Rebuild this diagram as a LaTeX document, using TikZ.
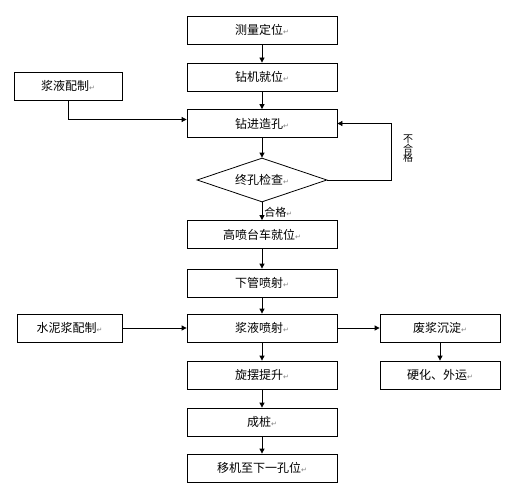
\documentclass[tikz,border=0pt]{standalone}
\usepackage{fontspec}
\setmainfont{Noto Sans CJK SC}
\newfontfamily\symfont{DejaVu Sans}
\usetikzlibrary{shapes.geometric,arrows.meta}
\newcommand{\pmark}{{\symfont\color{gray}\fontsize{7}{7}\selectfont ↵}}

\begin{document}
\begin{tikzpicture}[x=1pt,y=-1pt,
  every node/.style={font=\fontsize{12}{14}\selectfont},
  box/.style={draw,minimum width=150pt,minimum height=28pt,inner sep=0pt,line width=0.8pt},
  side/.style={box,minimum width=108pt},
  check/.style={diamond,draw,aspect=3,minimum width=130pt,minimum height=44pt,inner sep=0pt,line width=0.8pt},
  line/.style={draw,line width=0.8pt,-{Triangle[length=5pt,width=5pt]}}
  ]
\useasboundingbox (0,0) rectangle (513,484);
% main column
\node[box] (A) at (262,30) {测量定位\pmark};
\node[box] (B) at (262,77) {钻机就位\pmark};
\node[box] (C) at (262,123.5) {钻进造孔\pmark};
\node[check] (D) at (262,180) {终孔检查\pmark};
\node[box] (E) at (262,234.5) {高喷台车就位\pmark};
\node[box] (F) at (262,283) {下管喷射\pmark};
\node[box] (G) at (262,328) {浆液喷射\pmark};
\node[box] (H) at (262,375) {旋摆提升\pmark};
\node[box] (K) at (262,422) {成桩\pmark};
\node[box] (L) at (262,468) {移机至下一孔位\pmark};
% side boxes
\node[side] (P1) at (68,86) {浆液配制\pmark};
\node[side,minimum width=105pt] (P2) at (69.5,328) {水泥浆配制\pmark};
\node[box,minimum width=120pt] (Q1) at (440,328) {废浆沉淀\pmark};
\node[box,minimum width=120pt] (Q2) at (440,375) {硬化、外运\pmark};
\coordinate (back) at (391,180);

\draw[line] (A) -- (B);
\draw[line] (B) -- (C);
\draw[line] (C) -- (D);
\draw[line] (D) -- node[right,font=\fontsize{11}{12}\selectfont,inner sep=2pt,yshift=-1pt] {合格\pmark} (E);
\draw[line] (E) -- (F);
\draw[line] (F) -- (G);
\draw[line] (G) -- (H);
\draw[line] (H) -- (K);
\draw[line] (K) -- (L);
\draw[line] (P1.south) |- ([yshift=4pt]C.west);
\draw[line] (D.east) -- (back) |- (C.east);
\draw[line] (P2) -- (G);
\draw[line] (G) -- (Q1);
\draw[line] (Q1) -- (Q2);
\node[font=\fontsize{10}{9.5}\selectfont,align=center,inner sep=0pt] (NG) at (408,149) {不\\合\\格};
\end{tikzpicture}
\end{document}
